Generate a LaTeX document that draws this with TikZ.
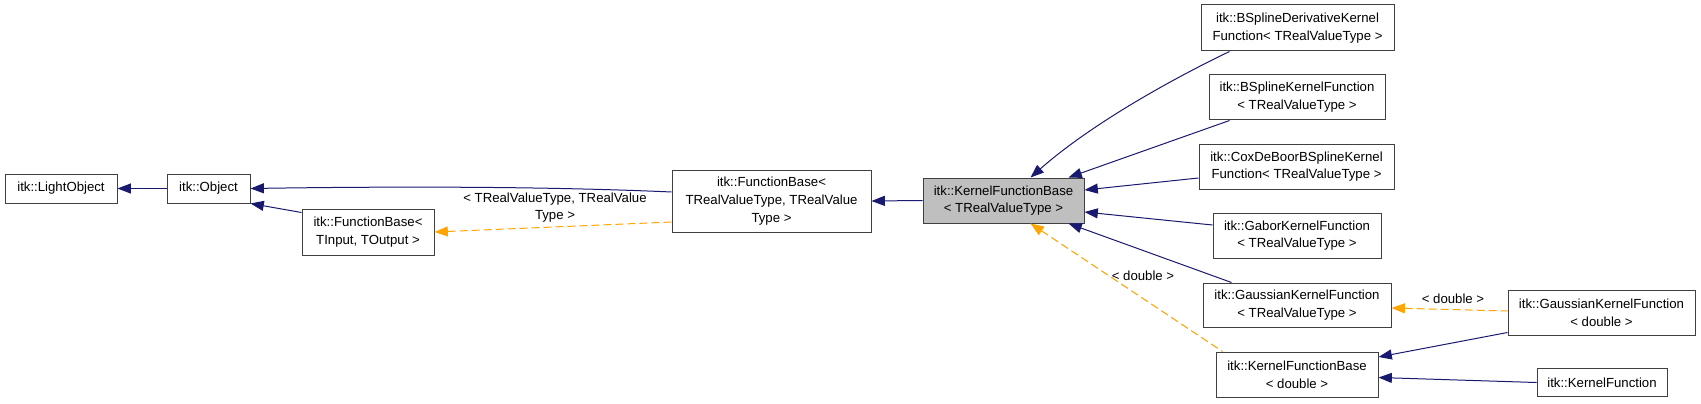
\documentclass[tikz,border=0pt]{standalone}
\usepackage{fontspec}
\setmainfont{Liberation Sans}
\usepackage{tikz}
\usetikzlibrary{arrows.meta,calc}
\definecolor{edgeblue}{HTML}{191970}
\definecolor{tmplorange}{HTML}{FFA500}
\definecolor{boxline}{HTML}{404040}
\definecolor{boxgray}{HTML}{BFBFBF}
\tikzset{
  cls/.style 2 args={draw=boxline,line width=0.75pt,fill=white,align=center,inner sep=0pt,
    minimum width=#1*0.75pt,minimum height=#2*0.75pt,
    font=\fontsize{9.9}{13.2}\selectfont},
  inh/.style={edgeblue,line width=0.75pt,{Triangle[length=10pt,width=7.5pt]}-},
  tmpl/.style={tmplorange,line width=0.75pt,dash pattern=on 6pt off 3pt,{Triangle[length=10pt,width=7.5pt]}-},
  lbl/.style={align=center,inner sep=0pt,font=\fontsize{9.9}{13.2}\selectfont}
}
\begin{document}
\begin{tikzpicture}[x=0.75pt,y=-0.75pt]
  \useasboundingbox (0,0) rectangle (1701,403);
  % base classes
  \node[cls={112}{29}] (light) at (61,188.5) {itk::LightObject};
  \node[cls={83}{29}] (obj) at (208.5,188.5) {itk::Object};
  \node[cls={132}{46}] (fbio) at (368,232) {itk::FunctionBase<\\TInput, TOutput >};
  \node[cls={199}{62}] (fbreal) at (771.5,201) {itk::FunctionBase<\\TRealValueType, TRealValue\\Type >};
  \node[cls={161}{45},fill=boxgray] (kfb) at (1003.5,200.5) {itk::KernelFunctionBase\\< TRealValueType >};
  % derived classes
  \node[cls={193}{46}] (bsd) at (1297.5,28) {itk::BSplineDerivativeKernel\\Function< TRealValueType >};
  \node[cls={176}{44}] (bsk) at (1297,97) {itk::BSplineKernelFunction\\< TRealValueType >};
  \node[cls={195}{45}] (cox) at (1296.5,166.5) {itk::CoxDeBoorBSplineKernel\\Function< TRealValueType >};
  \node[cls={168}{45}] (gabor) at (1297,235.5) {itk::GaborKernelFunction\\< TRealValueType >};
  \node[cls={188}{44}] (gaussr) at (1297,305) {itk::GaussianKernelFunction\\< TRealValueType >};
  \node[cls={162}{45}] (kfbd) at (1297,374.5) {itk::KernelFunctionBase\\< double >};
  \node[cls={187}{45}] (gaussd) at (1601.5,313) {itk::GaussianKernelFunction\\< double >};
  \node[cls={130}{28}] (kf) at (1602,382.5) {itk::KernelFunction};
  % inheritance
  \draw[inh] (light) -- (obj);
  \draw[inh] (obj.east) .. controls (420,186) and (560,187) .. ($(fbreal.west)+(0,-9)$);
  \draw[inh] (obj.south east) -- ($(fbio.north west)+(0,4)$);
  \draw[inh] (fbreal.east) -- (kfb.west);
  \draw[inh] ($(kfb.north)+(27,0)$) .. controls (1090,125) and (1170,80) .. ($(bsd.south west)+(29,0)$);
  \draw[inh] ($(kfb.north east)+(-16,0)$) -- ($(bsk.south west)+(21,1)$);
  \draw[inh] ($(kfb.east)+(0,-10.5)$) -- ($(cox.west)+(0,11.5)$);
  \draw[inh] ($(kfb.east)+(0,11.5)$) -- ($(gabor.west)+(0,-10.5)$);
  \draw[inh] ($(kfb.south east)+(-16,0)$) -- ($(gaussr.north west)+(29,0)$);
  \draw[inh] ($(kfbd.east)+(0,-17.5)$) -- ($(gaussd.south west)+(0,-3.5)$);
  \draw[inh] ($(kfbd.east)+(0,3)$) -- (kf.west);
  % template instances
  \draw[tmpl] (fbio.east) -- ($(fbreal.west)+(0,21)$);
  \node[lbl] (lblfb) at (555,207.5) {< TRealValueType, TRealValue\\Type >};
  \draw[tmpl] ($(kfb.south)+(27,0)$) -- ($(kfbd.north west)+(7,0)$);
  \node[lbl] (lblkfb) at (1143,276) {< double >};
  \draw[tmpl] ($(gaussr.east)+(0,3)$) -- ($(gaussd.west)+(0,-2)$);
  \node[lbl] (lblgauss) at (1453,299) {< double >};
\end{tikzpicture}
\end{document}
